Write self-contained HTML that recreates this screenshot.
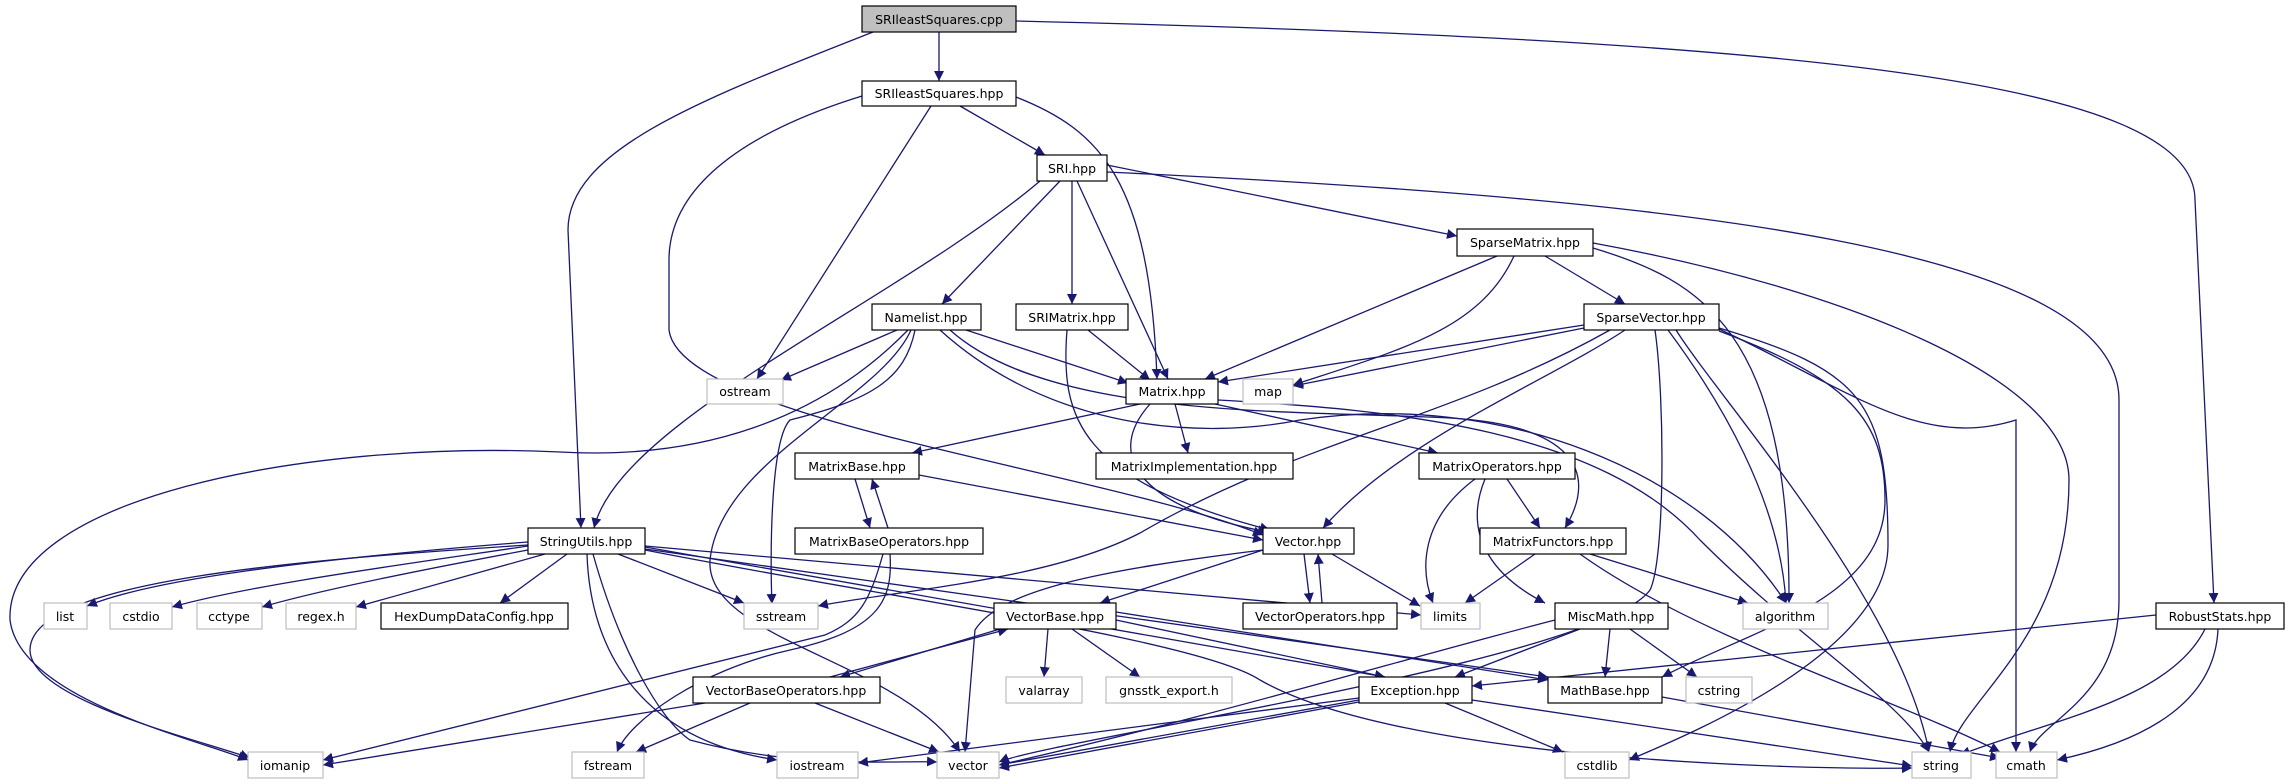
<!DOCTYPE html>
<html><head><meta charset="utf-8"><style>
html,body{margin:0;padding:0;background:#fff}
svg{display:block}
text{font-family:"DejaVu Sans","Liberation Sans",sans-serif;font-size:12.5px;fill:#000}
.e{fill:none;stroke:#191970;stroke-width:1.3}
.n rect{fill:#fff;stroke:#000;stroke-width:1.2}
.g rect{fill:#fff;stroke:#bfbfbf;stroke-width:1.2}
</style></head><body>
<svg width="2291" height="784" viewBox="0 0 2291 784" xmlns="http://www.w3.org/2000/svg">
<defs><marker id="a" viewBox="0 0 10 10" refX="10" refY="5" markerWidth="10" markerHeight="10" markerUnits="userSpaceOnUse" orient="auto"><path d="M0,0 L10,5 L0,10 z" fill="#191970"/></marker></defs>
<g marker-end="url(#a)">
<path class="e" d="M939,32 L939,81"/>
<path class="e" d="M873,32 C700,100 568,150 568,230 L581,528"/>
<path class="e" d="M1016,21 C1800,40 2195,80 2195,200 L2214,603"/>
<path class="e" d="M960,106 L1045,155"/>
<path class="e" d="M931,106 L757,379"/>
<path class="e" d="M1016,97 C1100,130 1150,180 1157,379"/>
<path class="e" d="M862,96 C720,140 669,200 669,260 L669,330 C680,420 1100,470 1263,535"/>
<path class="e" d="M1107,165 L1457,236"/>
<path class="e" d="M1060,181 L942,304"/>
<path class="e" d="M1072,181 L1072,304"/>
<path class="e" d="M1077,181 L1168,379"/>
<path class="e" d="M1040,181 C900,300 620,420 594,528"/>
<path class="e" d="M1107,172 C1700,200 2119,250 2119,400 L2119,600 C2119,700 2040,720 2030,752"/>
<path class="e" d="M1497,256 L1205,379"/>
<path class="e" d="M1514,256 C1480,330 1400,350 1293,385"/>
<path class="e" d="M1545,256 L1625,304"/>
<path class="e" d="M1593,248 C1700,280 1790,330 1789,603"/>
<path class="e" d="M1593,243 C1850,290 2069,380 2069,480 C2069,640 1960,700 1950,752"/>
<path class="e" d="M1584,325 L1218,382"/>
<path class="e" d="M1584,328 L1293,386"/>
<path class="e" d="M1625,330 C1550,380 1400,440 1323,528"/>
<path class="e" d="M1610,330 C1450,420 1300,440 1140,533 C1050,580 900,590 818,606"/>
<path class="e" d="M1655,330 C1665,400 1665,560 1650,590 C1600,660 1050,740 999,762"/>
<path class="e" d="M1676,330 C1720,400 1900,600 1929,752"/>
<path class="e" d="M1668,330 C1720,400 1780,500 1786,603"/>
<path class="e" d="M1719,328 C1860,370 1888,400 1888,545 C1888,650 1700,730 1629,760"/>
<path class="e" d="M1719,331 C1850,380 1885,420 1885,500 C1885,600 1750,630 1662,677"/>
<path class="e" d="M1719,329 C1850,390 1920,450 2016,420 L2016,752"/>
<path class="e" d="M897,330 L781,380"/>
<path class="e" d="M966,330 L1128,383"/>
<path class="e" d="M908,330 C820,420 700,460 560,452 C300,440 5,500 10,620 C20,700 200,740 248,760"/>
<path class="e" d="M528,545 C300,560 30,580 30,650 C30,700 200,740 250,758"/>
<path class="e" d="M915,330 C905,380 870,400 790,420 C770,440 770,560 772,604"/>
<path class="e" d="M911,330 C880,400 720,460 710,560 C705,640 900,660 960,752"/>
<path class="e" d="M950,330 C1050,420 1300,410 1450,418 C1570,425 1600,470 1565,528"/>
<path class="e" d="M940,330 C1050,430 1200,440 1300,420 C1500,390 1700,470 1786,603"/>
<path class="e" d="M1088,330 L1150,380"/>
<path class="e" d="M1067,330 C1060,420 1080,480 1270,530"/>
<path class="e" d="M1140,404 L912,453"/>
<path class="e" d="M1175,404 L1188,453"/>
<path class="e" d="M1215,404 L1438,453"/>
<path class="e" d="M1150,404 C1100,460 1150,510 1268,532"/>
<path class="e" d="M1218,400 C1400,410 1600,430 1700,540 C1800,640 1900,700 1929,752"/>
<path class="e" d="M855,479 L870,528"/>
<path class="e" d="M888,528 L872,479"/>
<path class="e" d="M919,475 L1263,540"/>
<path class="e" d="M883,554 C870,600 860,620 825,635 L323,760"/>
<path class="e" d="M890,554 C893,600 880,630 790,650 C700,670 630,720 617,752"/>
<path class="e" d="M1263,550 L1100,603"/>
<path class="e" d="M1304,554 L1310,603"/>
<path class="e" d="M1322,603 L1318,554"/>
<path class="e" d="M1332,554 L1420,606"/>
<path class="e" d="M1263,550 C1100,570 1000,590 975,630 L965,752"/>
<path class="e" d="M528,542 C300,560 150,580 87,606"/>
<path class="e" d="M528,546 C400,565 250,585 172,607"/>
<path class="e" d="M528,550 C420,570 320,590 262,607"/>
<path class="e" d="M545,554 L356,607"/>
<path class="e" d="M567,554 L500,603"/>
<path class="e" d="M618,554 L744,603"/>
<path class="e" d="M587,554 C590,650 640,740 777,760"/>
<path class="e" d="M593,554 C620,650 660,720 690,740 C800,770 900,760 937,762"/>
<path class="e" d="M645,546 L1421,615"/>
<path class="e" d="M645,547 L1385,677"/>
<path class="e" d="M645,549 C1000,600 1300,640 1548,677"/>
<path class="e" d="M645,550 C900,600 1200,640 1260,680 C1400,760 1800,770 1912,768"/>
<path class="e" d="M1000,629 L840,677"/>
<path class="e" d="M830,677 L1008,629"/>
<path class="e" d="M1048,629 L1044,677"/>
<path class="e" d="M1072,629 L1140,677"/>
<path class="e" d="M1116,620 L1385,677"/>
<path class="e" d="M1116,612 L1548,680"/>
<path class="e" d="M705,703 L323,765"/>
<path class="e" d="M750,703 L636,752"/>
<path class="e" d="M815,703 L939,752"/>
<path class="e" d="M1359,698 L858,763"/>
<path class="e" d="M1359,700 L999,765"/>
<path class="e" d="M1359,702 L999,768"/>
<path class="e" d="M1445,703 L1563,752"/>
<path class="e" d="M1472,700 L1912,766"/>
<path class="e" d="M1580,629 L1455,677"/>
<path class="e" d="M1610,629 L1605,677"/>
<path class="e" d="M1630,629 L1697,677"/>
<path class="e" d="M1555,620 C1400,660 1200,720 999,765"/>
<path class="e" d="M1507,479 L1540,528"/>
<path class="e" d="M1475,479 C1420,520 1420,570 1433,603"/>
<path class="e" d="M1485,479 C1460,540 1500,580 1545,603"/>
<path class="e" d="M1535,554 L1465,603"/>
<path class="e" d="M1590,554 L1748,603"/>
<path class="e" d="M1580,554 C1700,640 1900,700 2000,752"/>
<path class="e" d="M1662,697 L2000,758"/>
<path class="e" d="M2156,615 L1472,686"/>
<path class="e" d="M2205,629 C2170,700 2050,720 1960,755"/>
<path class="e" d="M2218,629 C2215,700 2150,740 2057,760"/>
</g>
<g class="n"><rect x="862" y="6" width="154" height="26" fill="#bfbfbf" style="fill:#bfbfbf"/><text x="939" y="24" text-anchor="middle">SRIleastSquares.cpp</text></g>
<g class="n"><rect x="862" y="81" width="154" height="25"/><text x="939" y="98" text-anchor="middle">SRIleastSquares.hpp</text></g>
<g class="n"><rect x="1037" y="155" width="70" height="26"/><text x="1072" y="173" text-anchor="middle">SRI.hpp</text></g>
<g class="n"><rect x="872" y="304" width="109" height="26"/><text x="926" y="322" text-anchor="middle">Namelist.hpp</text></g>
<g class="n"><rect x="1016" y="304" width="112" height="26"/><text x="1072" y="322" text-anchor="middle">SRIMatrix.hpp</text></g>
<g class="g"><rect x="707" y="379" width="76" height="25"/><text x="745" y="396" text-anchor="middle">ostream</text></g>
<g class="n"><rect x="1126" y="379" width="92" height="25"/><text x="1172" y="396" text-anchor="middle">Matrix.hpp</text></g>
<g class="g"><rect x="1243" y="379" width="50" height="25"/><text x="1268" y="396" text-anchor="middle">map</text></g>
<g class="n"><rect x="1457" y="229" width="136" height="27"/><text x="1525" y="247" text-anchor="middle">SparseMatrix.hpp</text></g>
<g class="n"><rect x="1584" y="304" width="135" height="26"/><text x="1651" y="322" text-anchor="middle">SparseVector.hpp</text></g>
<g class="n"><rect x="2156" y="603" width="128" height="26"/><text x="2220" y="621" text-anchor="middle">RobustStats.hpp</text></g>
<g class="n"><rect x="795" y="453" width="124" height="26"/><text x="857" y="471" text-anchor="middle">MatrixBase.hpp</text></g>
<g class="n"><rect x="1096" y="453" width="197" height="26"/><text x="1194" y="471" text-anchor="middle">MatrixImplementation.hpp</text></g>
<g class="n"><rect x="1419" y="453" width="156" height="26"/><text x="1497" y="471" text-anchor="middle">MatrixOperators.hpp</text></g>
<g class="n"><rect x="528" y="528" width="117" height="26"/><text x="586" y="546" text-anchor="middle">StringUtils.hpp</text></g>
<g class="n"><rect x="795" y="528" width="188" height="26"/><text x="889" y="546" text-anchor="middle">MatrixBaseOperators.hpp</text></g>
<g class="n"><rect x="1263" y="528" width="91" height="26"/><text x="1308" y="546" text-anchor="middle">Vector.hpp</text></g>
<g class="n"><rect x="1480" y="528" width="146" height="26"/><text x="1553" y="546" text-anchor="middle">MatrixFunctors.hpp</text></g>
<g class="g"><rect x="44" y="603" width="43" height="26"/><text x="65" y="621" text-anchor="middle">list</text></g>
<g class="g"><rect x="110" y="603" width="62" height="26"/><text x="141" y="621" text-anchor="middle">cstdio</text></g>
<g class="g"><rect x="197" y="603" width="65" height="26"/><text x="229" y="621" text-anchor="middle">cctype</text></g>
<g class="g"><rect x="286" y="603" width="70" height="26"/><text x="321" y="621" text-anchor="middle">regex.h</text></g>
<g class="n"><rect x="381" y="603" width="187" height="26"/><text x="474" y="621" text-anchor="middle">HexDumpDataConfig.hpp</text></g>
<g class="g"><rect x="744" y="603" width="74" height="26"/><text x="781" y="621" text-anchor="middle">sstream</text></g>
<g class="n"><rect x="994" y="603" width="122" height="26"/><text x="1055" y="621" text-anchor="middle">VectorBase.hpp</text></g>
<g class="n"><rect x="1243" y="603" width="154" height="26"/><text x="1320" y="621" text-anchor="middle">VectorOperators.hpp</text></g>
<g class="g"><rect x="1421" y="603" width="59" height="26"/><text x="1450" y="621" text-anchor="middle">limits</text></g>
<g class="n"><rect x="1555" y="603" width="113" height="26"/><text x="1611" y="621" text-anchor="middle">MiscMath.hpp</text></g>
<g class="g"><rect x="1743" y="603" width="85" height="26"/><text x="1785" y="621" text-anchor="middle">algorithm</text></g>
<g class="n"><rect x="693" y="677" width="187" height="26"/><text x="786" y="695" text-anchor="middle">VectorBaseOperators.hpp</text></g>
<g class="g"><rect x="1006" y="677" width="76" height="26"/><text x="1044" y="695" text-anchor="middle">valarray</text></g>
<g class="g"><rect x="1106" y="677" width="126" height="26"/><text x="1169" y="695" text-anchor="middle">gnsstk_export.h</text></g>
<g class="n"><rect x="1359" y="677" width="113" height="26"/><text x="1415" y="695" text-anchor="middle">Exception.hpp</text></g>
<g class="n"><rect x="1548" y="677" width="114" height="26"/><text x="1605" y="695" text-anchor="middle">MathBase.hpp</text></g>
<g class="g"><rect x="1686" y="677" width="66" height="26"/><text x="1719" y="695" text-anchor="middle">cstring</text></g>
<g class="g"><rect x="248" y="752" width="75" height="26"/><text x="285" y="770" text-anchor="middle">iomanip</text></g>
<g class="g"><rect x="572" y="752" width="72" height="26"/><text x="608" y="770" text-anchor="middle">fstream</text></g>
<g class="g"><rect x="777" y="752" width="81" height="26"/><text x="817" y="770" text-anchor="middle">iostream</text></g>
<g class="g"><rect x="937" y="752" width="62" height="26"/><text x="968" y="770" text-anchor="middle">vector</text></g>
<g class="g"><rect x="1565" y="752" width="64" height="26"/><text x="1597" y="770" text-anchor="middle">cstdlib</text></g>
<g class="g"><rect x="1912" y="752" width="59" height="26"/><text x="1941" y="770" text-anchor="middle">string</text></g>
<g class="g"><rect x="1996" y="752" width="61" height="26"/><text x="2026" y="770" text-anchor="middle">cmath</text></g>
</svg>
</body></html>
